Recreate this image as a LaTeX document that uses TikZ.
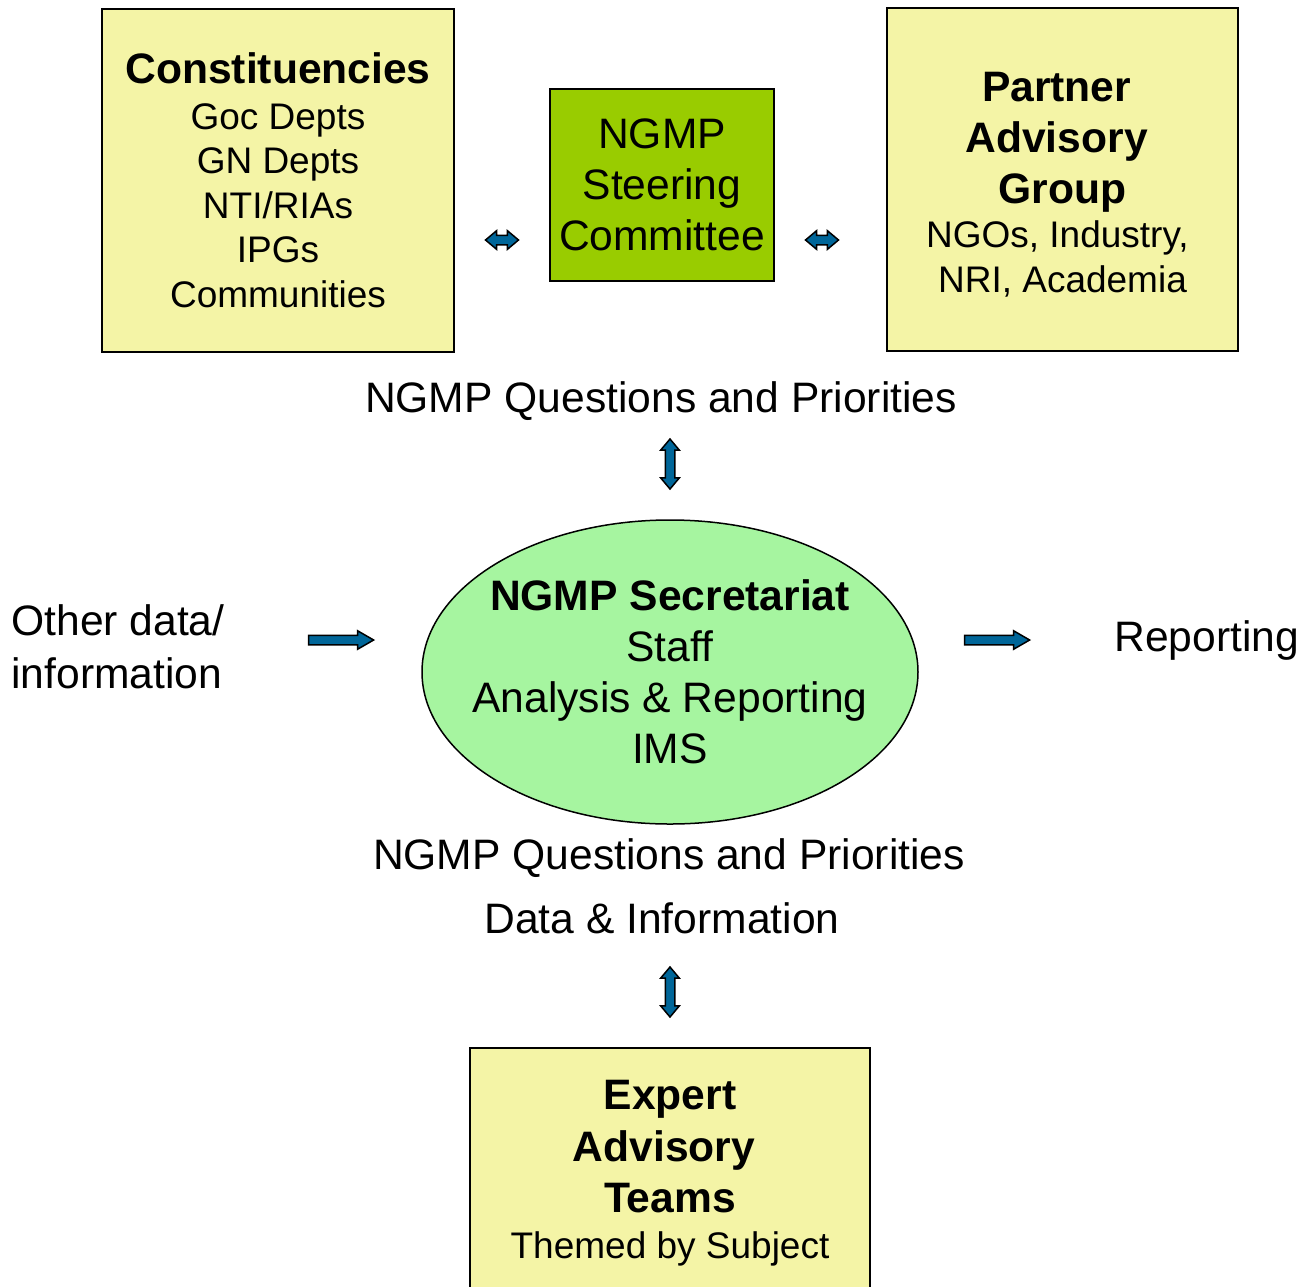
\documentclass[tikz,border=0pt]{standalone}
\usepackage{fontspec}
\setmainfont{Liberation Sans}
\usetikzlibrary{shapes.geometric,shapes.arrows}
\definecolor{boxyellow}{RGB}{244,244,166}
\definecolor{steergreen}{RGB}{153,204,0}
\definecolor{secgreen}{RGB}{166,245,160}
\definecolor{arrowblue}{RGB}{0,102,153}
\newcommand{\headline}[1]{{\fontsize{21.3}{26}\selectfont\bfseries #1}}
\tikzset{
  bigfont/.style={font=\fontsize{21.3}{25.5}\selectfont},
  smallfont/.style={font=\fontsize{18.5}{22.25}\selectfont},
  ybox/.style={draw=black, line width=1pt, fill=boxyellow, align=center, inner sep=0pt, smallfont},
  blockarrow/.style={draw=black, line width=0.75pt, fill=arrowblue, inner xsep=0pt, inner ysep=2pt},
  dblarrow/.style={blockarrow, double arrow, double arrow head extend=2.25pt, double arrow tip angle=80},
  sglarrow/.style={blockarrow, single arrow, single arrow head extend=2.25pt, single arrow tip angle=60}
}
\begin{document}
\begin{tikzpicture}[x=0.5pt,y=-0.5pt]
\useasboundingbox (0,0) rectangle (1302,1286);

\node[ybox, minimum width=176pt, minimum height=171.5pt] (const) at (278,180)
  {\headline{Constituencies}\\[0.75pt] Goc Depts\\ GN Depts\\ NTI/RIAs\\ IPGs\\ Communities};
\node[draw=black, line width=1pt, fill=steergreen, align=center, inner sep=0pt,
  minimum width=112pt, minimum height=96pt, bigfont] (steer) at (662,185)
  {NGMP\\ Steering\\ Committee};
\node[ybox, minimum width=175.5pt, minimum height=171.5pt] (partner) at (1062.5,179.5) {};
\node[align=center, inner sep=0pt, smallfont] (partnertext) at (1062.5,184.5)
  {\headline{Partner\hphantom{\ }}\\[3.25pt] \headline{Advisory\hphantom{\ }}\\[3.25pt] \headline{Group}\\ NGOs, Industry,\hphantom{\ }\\ NRI, Academia};

\node[dblarrow, minimum height=16.5pt] (arrl) at (502,240) {};
\node[dblarrow, minimum height=16.5pt] (arrr) at (822,240) {};

\node[bigfont, anchor=base, inner sep=0pt] (qtop) at (661,412) {NGMP Questions and Priorities};
\node[dblarrow, minimum height=25pt, rotate=90] (arrt) at (670,464) {};

\node[ellipse, draw=black, line width=0.75pt, fill=secgreen, minimum width=248pt, minimum height=152pt,
  inner sep=0pt] (sec) at (670,672) {};
\node[align=center, inner sep=0pt, bigfont] (sectext) at (sec.center)
  {\textbf{NGMP Secretariat}\\ Staff\\ Analysis \& Reporting\\ IMS};

\node[font=\fontsize{21.3}{26.5}\selectfont, align=left, anchor=west, inner sep=0pt] (other) at (11,647)
  {Other data/\\ information};
\node[sglarrow, minimum height=32.5pt] (arrin) at (337,640) {};
\node[sglarrow, minimum height=32.5pt] (arrout) at (993,640) {};
\node[bigfont, anchor=base west, inner sep=0pt] (report) at (1114,651) {Reporting};

\node[bigfont, anchor=base, inner sep=0pt] (qbot) at (669,869) {NGMP Questions and Priorities};
\node[bigfont, anchor=base, inner sep=0pt] (data) at (662,933) {Data \& Information};
\node[dblarrow, minimum height=25pt, rotate=90] (arrb) at (670,992) {};

\node[ybox, minimum width=200pt, minimum height=125.5pt] (expert) at (670,1173.5)
  {\headline{Expert}\\[3.5pt] \headline{Advisory\hphantom{\ }}\\[3.5pt] \headline{Teams}\\[0.75pt] Themed by Subject};
\end{tikzpicture}
\end{document}
